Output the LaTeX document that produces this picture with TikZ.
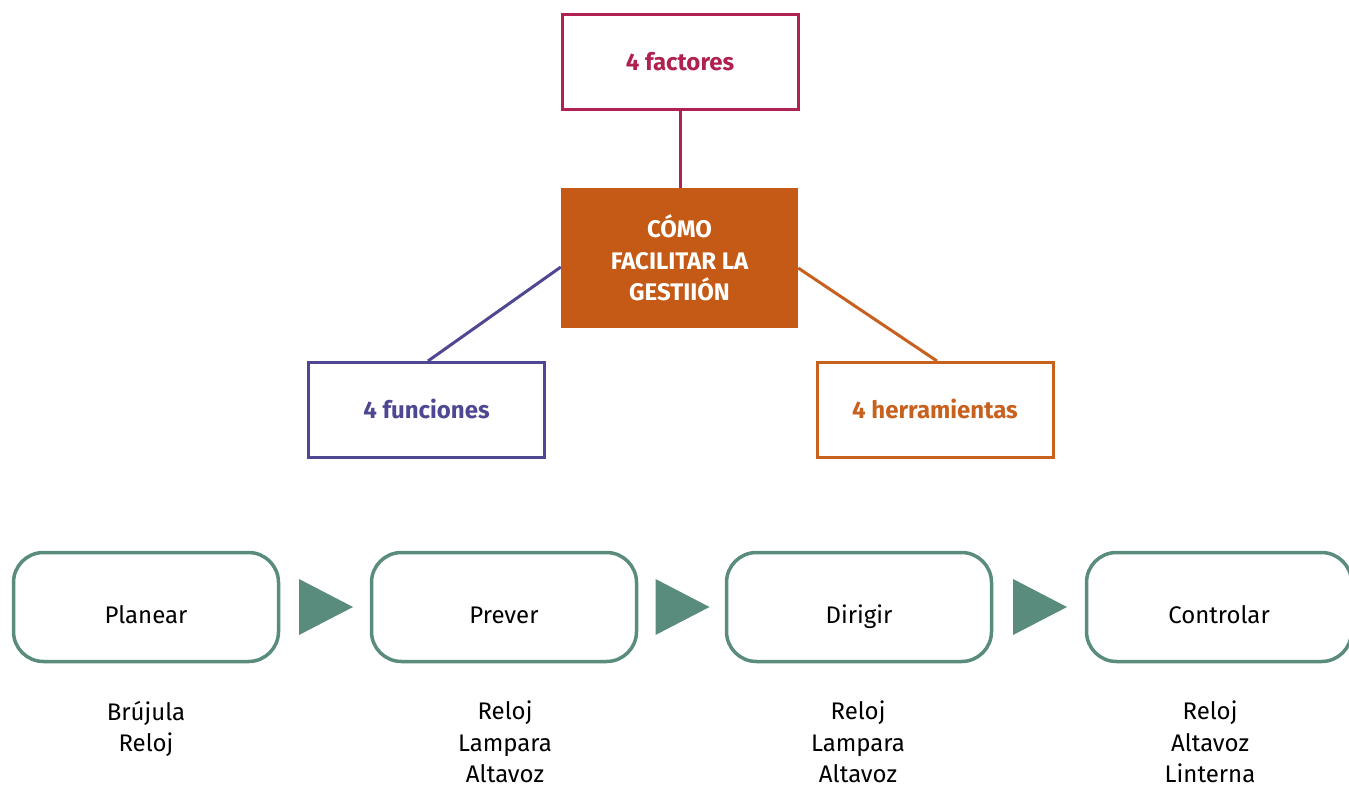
\documentclass[tikz,border=0pt]{standalone}
\usepackage{fontspec}
\setmainfont{Fira Sans}
\usetikzlibrary{calc}
\definecolor{factcol}{HTML}{B0214F}
\definecolor{funcol}{HTML}{4E4792}
\definecolor{herrcol}{HTML}{C8601E}
\definecolor{corecol}{HTML}{C45A16}
\definecolor{stepcol}{HTML}{5A8C7E}
\tikzset{
  topbox/.style={draw=#1, line width=3pt, text=#1, minimum width=236, minimum height=95,
    inner sep=0pt, text height=16.5pt, text depth=0pt,
    font=\fontsize{24}{31.5}\selectfont\bfseries},
  corebox/.style={fill=corecol, text=white, minimum width=237, minimum height=140,
    inner sep=0pt, align=center, font=\fontsize{24}{31.5}\selectfont\bfseries},
  link/.style={line width=3pt, draw=#1},
  stepbox/.style={draw=stepcol, line width=3.5pt, rounded corners=30, minimum width=265,
    minimum height=109, inner sep=0pt, text height=32pt, text depth=0pt,
    font=\fontsize{24}{31.5}\selectfont},
  toollist/.style={align=center, inner sep=0pt, anchor=north, font=\fontsize{24}{31.5}\selectfont},
  stepfill/.style={fill=stepcol}
}
\begin{document}
\begin{tikzpicture}[x=1pt,y=-1pt]
\useasboundingbox (0,0) rectangle (1349,785);

% central question and its three branches
\node[corebox] (core) at (679.5,258) {CÓMO\\FACILITAR LA\\GESTIIÓN};
\node[topbox=factcol] (fact) at (680,62) {4 factores};
\node[topbox=funcol] (fun) at (426.5,410) {4 funciones};
\node[topbox=herrcol] (herr) at (935,410) {4 herramientas};

\draw[link=factcol] (fact.south) -- (core.north -| fact.south);
\draw[link=funcol] ([xshift=1.5pt]fun.north) -- ([yshift=-9pt]core.west);
\draw[link=herrcol] ([xshift=2pt]herr.north) -- ([yshift=-10pt]core.east);

% the four steps of the process
\node[stepbox] (s1) at (146,607) {Planear};
\node[stepbox] (s2) at (504,607) {Prever};
\node[stepbox] (s3) at (859,607) {Dirigir};
\node[stepbox] (s4) at (1219,607) {Controlar};

\foreach \a/\b in {s1/s2, s2/s3, s3/s4}
  \fill[stepfill] ($(\a.east)!0.5!(\b.west)+(-26,-28)$) -- ++(54,28) -- ++(-54,28) -- cycle;

% tools used in each step
\node[toollist] (t1) at (146,701) {Brújula\\Reloj};
\node[toollist] (t2) at (505,701) {Reloj\\Lampara\\Altavoz};
\node[toollist] (t3) at (858,701) {Reloj\\Lampara\\Altavoz};
\node[toollist] (t4) at (1210,701) {Reloj\\Altavoz\\Linterna};
\end{tikzpicture}
\end{document}
